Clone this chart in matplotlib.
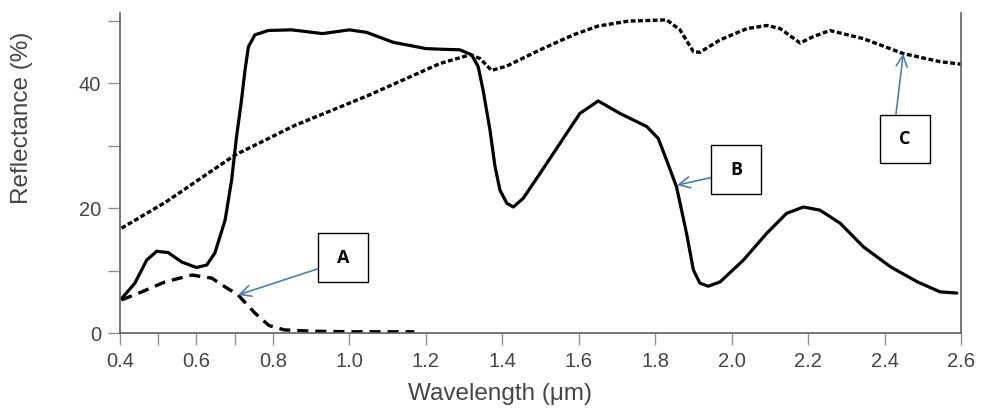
import matplotlib
matplotlib.use("Agg")
import matplotlib.pyplot as plt
from matplotlib.patches import Rectangle

plt.rcParams['font.family'] = ['Liberation Sans', 'DejaVu Sans']
plt.rcParams['lines.scale_dashes'] = False

# curve B - solid
b_wl = [0.404, 0.439, 0.47, 0.496, 0.526, 0.561, 0.60, 0.627, 0.648, 0.675, 0.692, 0.705,
        0.717, 0.727, 0.736, 0.753, 0.788, 0.849, 0.93, 1.00, 1.045, 1.115, 1.20, 1.237,
        1.289, 1.32, 1.337, 1.35, 1.368, 1.381, 1.394, 1.412, 1.429, 1.455, 1.499, 1.551,
        1.603, 1.651, 1.708, 1.778, 1.808, 1.83, 1.856, 1.882, 1.90, 1.917, 1.939, 1.97,
        2.031, 2.092, 2.144, 2.188, 2.231, 2.284, 2.345, 2.416, 2.486, 2.545, 2.589]
b_refl = [5.5, 8.0, 11.7, 13.1, 12.9, 11.4, 10.5, 10.9, 12.8, 18.1, 24.5, 31.5,
          36.9, 42.1, 45.9, 47.8, 48.5, 48.6, 48.0, 48.6, 48.2, 46.6, 45.6, 45.5,
          45.4, 44.6, 42.7, 38.9, 32.5, 26.7, 22.9, 20.8, 20.2, 21.6, 25.6, 30.4,
          35.2, 37.2, 35.2, 33.1, 31.2, 27.7, 23.4, 16.0, 10.1, 8.0, 7.5, 8.2,
          11.7, 16.0, 19.2, 20.2, 19.7, 17.6, 13.8, 10.6, 8.2, 6.6, 6.4]

# curve A - long dashes
a_wl = [0.404, 0.457, 0.518, 0.588, 0.64, 0.675, 0.709, 0.753, 0.79, 0.83, 0.90, 1.00, 1.17]
a_refl = [5.3, 6.6, 8.2, 9.3, 8.8, 7.4, 6.1, 3.2, 1.2, 0.5, 0.3, 0.2, 0.2]

# curve C - short dashes
c_wl = [0.404, 0.52, 0.70, 0.858, 1.05, 1.237, 1.316, 1.342, 1.372, 1.412, 1.499, 1.586,
        1.65, 1.73, 1.83, 1.865, 1.90, 1.917, 1.97, 2.04, 2.093, 2.127, 2.179, 2.213,
        2.257, 2.344, 2.449, 2.545, 2.60]
c_refl = [16.8, 21.0, 28.5, 33.3, 38.1, 43.2, 44.6, 44.0, 42.1, 42.8, 45.4, 47.8,
          49.2, 50.0, 50.2, 48.6, 45.1, 45.0, 47.0, 48.8, 49.3, 48.8, 46.5, 47.5,
          48.5, 47.2, 44.8, 43.5, 43.1]

x_ticks = [0.4, 0.6, 0.8, 1.0, 1.2, 1.4, 1.6, 1.8, 2.0, 2.2, 2.4, 2.6]
x_minor = [0.5, 0.7]
y_ticks = [0, 20, 40]
y_minor = [10, 30, 50]

axis_col = '#606060'
text_col = '#454545'
arrow_col = '#4a7ebb'

fig = plt.figure(figsize=(9.81, 4.17), dpi=100)
ax = fig.add_axes([0.1223, 0.2014, 0.8573, 0.7674])

ax.plot(b_wl, b_refl, color='black', lw=2.3, solid_joinstyle='round', solid_capstyle='round')
ax.plot(a_wl, a_refl, color='black', lw=2.4, dashes=(8, 5))
ax.plot(c_wl, c_refl, color='black', lw=2.4, dashes=(3.5, 1.8))

ax.set_xlim(0.4, 2.6)
ax.set_ylim(0, 51.3)
ax.set_xticks(x_ticks)
ax.set_xticklabels([f'{v:.1f}' for v in x_ticks])
ax.set_xticks(x_minor, minor=True)
ax.set_yticks(y_ticks)
ax.set_yticks(y_minor, minor=True)

for side in ['left', 'bottom', 'right']:
    ax.spines[side].set_color(axis_col)
    ax.spines[side].set_linewidth(1.2)
ax.spines['top'].set_visible(False)

ax.tick_params(which='both', direction='out', length=8.5, width=1.0, color='#909090',
               labelsize=14.5, labelcolor=text_col, pad=5)
ax.tick_params(axis='y', right=False)

ax.set_xlabel('Wavelength (\u03bcm)', fontsize=17.5, color=text_col)
ax.set_ylabel('Reflectance (%)', fontsize=17.5, color=text_col)
ax.xaxis.set_label_coords(0.452, -0.155)
ax.yaxis.set_label_coords(-0.1035, 0.673)

# label boxes with arrows
boxes = [
    ('A', (0.918, 8.2), (0.709, 6.1), (0.918, 10.3)),
    ('B', (1.946, 22.3), (1.857, 23.7), (1.946, 24.9)),
    ('C', (2.388, 27.2), (2.449, 44.8), (2.43, 35.1)),
]
bw, bh = 0.131, 7.8
for name, (bx, by), tip, start in boxes:
    ax.annotate('', xy=tip, xytext=start,
                arrowprops=dict(arrowstyle='->,head_length=0.8,head_width=0.4',
                                color=arrow_col, lw=1.2, shrinkA=0, shrinkB=0))
    ax.add_patch(Rectangle((bx, by), bw, bh, facecolor='white', edgecolor='black',
                           lw=1.0, zorder=5))
    ax.text(bx + bw / 2, by + bh / 2, name, ha='center', va='center', fontsize=13,
            fontweight='bold', family=['Open Sans', 'DejaVu Sans'], zorder=6)

fig.savefig('out.png', dpi=100)
